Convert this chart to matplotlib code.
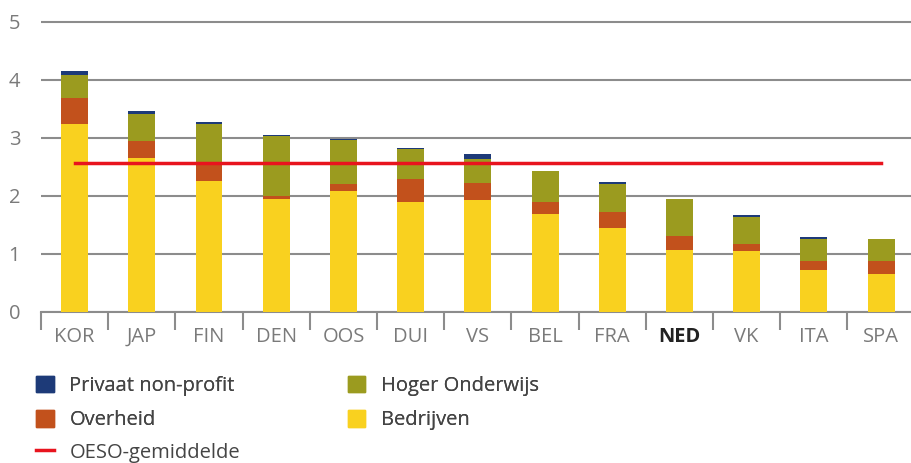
import numpy as np
import matplotlib
matplotlib.use("Agg")
import matplotlib.pyplot as plt
from matplotlib.lines import Line2D
from matplotlib.patches import Patch

# data (R&D-uitgaven als % bbp, per financierende sector)
landen = ["KOR", "JAP", "FIN", "DEN", "OOS", "DUI", "VS", "BEL", "FRA", "NED", "VK", "ITA", "SPA"]
bedrijven = [3.24, 2.65, 2.25, 1.94, 2.09, 1.90, 1.93, 1.69, 1.44, 1.06, 1.05, 0.71, 0.65]
overheid = [0.44, 0.29, 0.33, 0.05, 0.12, 0.39, 0.29, 0.21, 0.28, 0.25, 0.12, 0.16, 0.23]
hoger_onderwijs = [0.41, 0.48, 0.66, 1.05, 0.76, 0.52, 0.41, 0.52, 0.48, 0.63, 0.46, 0.38, 0.37]
privaat = [0.06, 0.05, 0.04, 0.01, 0.01, 0.01, 0.09, 0.00, 0.04, 0.00, 0.03, 0.03, 0.01]
oeso_gemiddelde = 2.57

c_bedr = "#F9D11F"
c_overh = "#C2511C"
c_hoger = "#9B9B1F"
c_priv = "#1D3A78"
c_oeso = "#E8141E"
grid_c = "#8C8C8C"
text_c = "#7A7A7A"
fs = 14.5

plt.rcParams["font.family"] = ["Open Sans", "DejaVu Sans"]

fig = plt.figure(figsize=(9.12, 4.63), dpi=100)
ax = fig.add_axes([0.045, 0.327, 0.955, 0.638])

x = np.arange(len(landen))
w = 0.40
b1 = np.array(bedrijven)
b2 = b1 + np.array(overheid)
b3 = b2 + np.array(hoger_onderwijs)

ax.bar(x, bedrijven, w, color=c_bedr, zorder=3)
ax.bar(x, overheid, w, bottom=b1, color=c_overh, zorder=3)
ax.bar(x, hoger_onderwijs, w, bottom=b2, color=c_hoger, zorder=3)
ax.bar(x, privaat, w, bottom=b3, color=c_priv, zorder=3)
ax.plot([x[0], x[-1]], [oeso_gemiddelde, oeso_gemiddelde], color=c_oeso, lw=2.5, zorder=4)

ax.set_xlim(-0.5, 12.46)
ax.set_ylim(0, 5.1)
ax.set_yticks(range(6))
ax.yaxis.grid(True, color=grid_c, lw=1.5, zorder=0)
ax.tick_params(axis="y", length=0, pad=15, labelsize=fs, labelcolor=text_c)

ax.set_xticks(x)
ax.set_xticklabels(landen)
ax.set_xticks(np.arange(-0.5, len(landen) - 0.5, 1), minor=True)
ax.tick_params(axis="x", which="major", length=0, pad=11, labelsize=fs, labelcolor=text_c)
ax.tick_params(axis="x", which="minor", length=13, width=1.5, color=grid_c)
for lbl in ax.get_xticklabels():
    if lbl.get_text() == "NED":
        lbl.set_fontweight("bold")
        lbl.set_color("#222222")

for s in ["top", "right", "left"]:
    ax.spines[s].set_visible(False)
ax.spines["bottom"].set_color(grid_c)
ax.spines["bottom"].set_linewidth(1.5)

# legenda: twee kolommen met de sectoren, daaronder het OESO-gemiddelde
handles = [
    Patch(color=c_priv, label="Privaat non-profit"),
    Patch(color=c_overh, label="Overheid"),
    Patch(color=c_hoger, label="Hoger Onderwijs"),
    Patch(color=c_bedr, label="Bedrijven"),
]
leg_kw = dict(frameon=False, fontsize=fs, handlelength=0.88, handleheight=0.88,
              handletextpad=0.78, borderpad=0, borderaxespad=0)
leg1 = fig.legend(handles=handles, ncol=2, loc="center left", bbox_to_anchor=(0.0395, 0.1296),
                  columnspacing=5.6, labelspacing=0.72, **leg_kw)
leg2 = fig.legend(handles=[Line2D([0], [0], color=c_oeso, lw=2.5, label="OESO-gemiddelde")],
                  loc="center left", bbox_to_anchor=(0.0395, 0.0216), **leg_kw)
fig.add_artist(leg1)
for leg in (leg1, leg2):
    for t in leg.get_texts():
        t.set_color("#444444")

fig.savefig("out.png", dpi=100)
